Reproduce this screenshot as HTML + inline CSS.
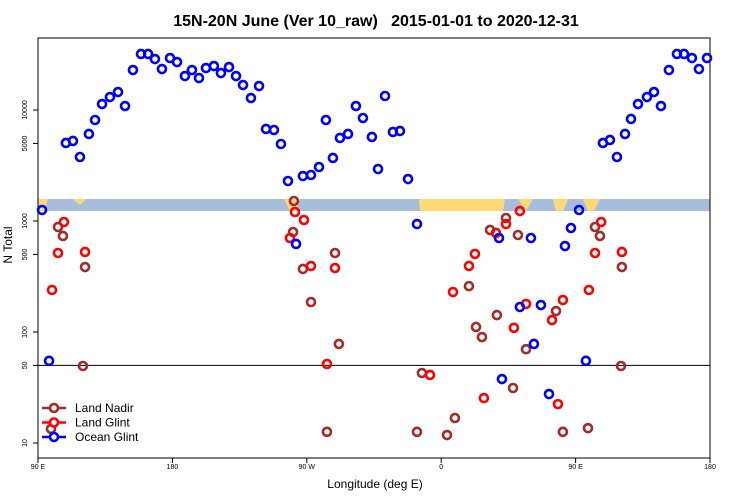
<!DOCTYPE html>
<html><head><meta charset="utf-8"><style>
body{margin:0;background:#fff}
svg{display:block;font-family:"Liberation Sans",sans-serif}
</style></head><body>
<svg id="chart" width="750" height="500">
<text x="376" y="26" text-anchor="middle" font-size="16" font-weight="bold" style="white-space:pre">15N-20N June (Ver 10_raw)   2015-01-01 to 2020-12-31</text>
<text x="375" y="488" text-anchor="middle" font-size="12">Longitude (deg E)</text>
<text transform="translate(12,245) rotate(-90)" text-anchor="middle" font-size="12">N Total</text>
</svg>
<script>
const xTickVals=[90,180,270,360,450,540];
const xTickLabels=["90 E","180","90 W","0","90 E","180"];
const yTickVals=[10,50,100,500,1000,5000,10000];
const oceanLon=[92.7,97.4,108.7,113.4,118.1,124.1,128.2,132.9,138.2,143.6,148.3,153.6,159.0,163.7,168.3,173.0,178.4,183.1,188.4,193.1,197.8,202.5,207.8,212.5,217.9,222.6,227.3,232.6,238.0,242.7,248.0,252.7,257.4,262.8,267.4,272.8,278.2,282.8,287.5,292.2,297.6,302.9,307.6,313.6,317.7,322.4,327.7,332.4,337.8,343.8,400.7,398.7,412.7,420.1,422.1,426.8,432.2,442.9,446.9,452.3,456.9,468.3,473.0,477.7,483.1,487.1,491.8,497.8,502.5,507.2,512.5,517.9,522.6,527.9,532.6,538.0];
const oceanVal=[1256,55,5045,5260,3773,6083,8128,11320,13090,14520,10860,22910,31990,31990,28780,23390,29380,27040,20230,22910,19410,23880,24890,21530,24380,20230,16790,12820,16440,6745,6605,4940,2291,621,2541,2596,3062,8128,3698,5598,6083,10860,8472,5715,2938,13370,6339,6471,2388,939,37.7,703,168,703,78,175,27.6,595,865,1256,55,5045,5370,3773,6083,8300,11320,13090,14520,10860,22910,31990,31990,29380,23390,29380];
const nadirLon=[98.7,103.4,106.7,121.5,120.1,260.8,261.4,267.4,272.8,283.5,288.9,291.5,343.8,347.1,363.9,369.2,378.6,383.3,387.3,392.7,397.3,403.4,408.1,411.4,416.8,436.9,441.5,458.3,463.0,466.3,480.4,481.0];
const nadirVal=[13.4,883,733,385,49.4,796,1514,370,186,12.6,515,78,12.6,42.7,11.8,16.8,259,111,90,830,142,1064,31.3,748,70,154.5,12.6,13.6,883,733,49.4,385];
const glintLon=[99.4,103.4,107.4,121.5,258.7,262.1,268.1,272.8,283.5,288.9,352.5,367.9,378.6,382.6,388.6,396.7,403.4,408.7,412.7,416.8,434.2,438.2,441.5,458.9,463.0,467.1,481.0];
const glintVal=[239,515,979,526,703,1205,1021,393,51.5,377,41,229,393,505,25.4,780,939,109,1230,179,128,22.4,194,239,515,979,526];

const NS="http://www.w3.org/2000/svg";
const svg=document.getElementById('chart');
const L=38,R=710,T=38,B=458;
function xs(lon){return L+(lon-90)*(R-L)/450;}
function ys(v){return 443-111*Math.log10(v/10);}
function mk(tag,attrs,parent){const e=document.createElementNS(NS,tag);for(const k in attrs)e.setAttribute(k,attrs[k]);(parent||svg).appendChild(e);return e;}

const band=mk('g',{});


mk('rect',{x:L,y:199,width:R-L,height:12,fill:'#a6bddb'},band);
const yellowPolys=["38,199 48,199 44,211 38,211","284,199 300,199 296,211 290,211","419,199 505,199 503,211 420,211","518,199 533,199 526,211","553,199 568,199 563,211 556,211","583,199 600,199 594,211 588,211","73,199 86,199 80,205"];
yellowPolys.forEach(p=>mk('polygon',{points:p,fill:'#fed976'},band));

const ref=mk('line',{x1:L,x2:R,y1:ys(50),y2:ys(50),stroke:'#000','stroke-width':1});



const fr=mk('rect',{x:L,y:T,width:R-L,height:B-T,fill:'none',stroke:'#000','stroke-width':1});



xTickVals.forEach((v,i)=>{
  const x=xs(v);
  mk('line',{x1:x,x2:x,y1:B,y2:B+5,stroke:'#000'});
  const t=mk('text',{x:x,y:B+11,'text-anchor':'middle','font-size':7});
  t.textContent=xTickLabels[i];
  
  
});
yTickVals.forEach(v=>{
  const y=ys(v);
  mk('line',{x1:L-5,x2:L,y1:y,y2:y,stroke:'#000'});
  const t=mk('text',{transform:`translate(${L-11},${y}) rotate(-90)`,'text-anchor':'middle','font-size':7});
  t.textContent=String(v);
  
  
});

function series(lons,vals,color,name){
  const g=mk('g',{});
  
  
  lons.forEach((lon,i)=>{
    const c=mk('circle',{cx:xs(lon),cy:ys(vals[i]),r:4,fill:'none',stroke:color,'stroke-width':2.6},g);
    
    
  });
}
series(nadirLon,nadirVal,'#a52a2a','land-nadir');
series(glintLon,glintVal,'#ff0000','land-glint');
series(oceanLon,oceanVal,'#0000ff','ocean-glint');

const legend=[["Land Nadir","#a52a2a"],["Land Glint","#ff0000"],["Ocean Glint","#0000ff"]];
legend.forEach((d,i)=>{
  const y=408+i*14.5;
  const g=mk('g',{});
  
  
  mk('line',{x1:42,x2:66,y1:y,y2:y,stroke:d[1],'stroke-width':2.6},g);
  mk('circle',{cx:54,cy:y,r:4,fill:'#fff',stroke:d[1],'stroke-width':2.6},g);
  const t=mk('text',{x:75,y:y+4,'font-size':12},g);
  t.textContent=d[0];
});
</script>
</body></html>
